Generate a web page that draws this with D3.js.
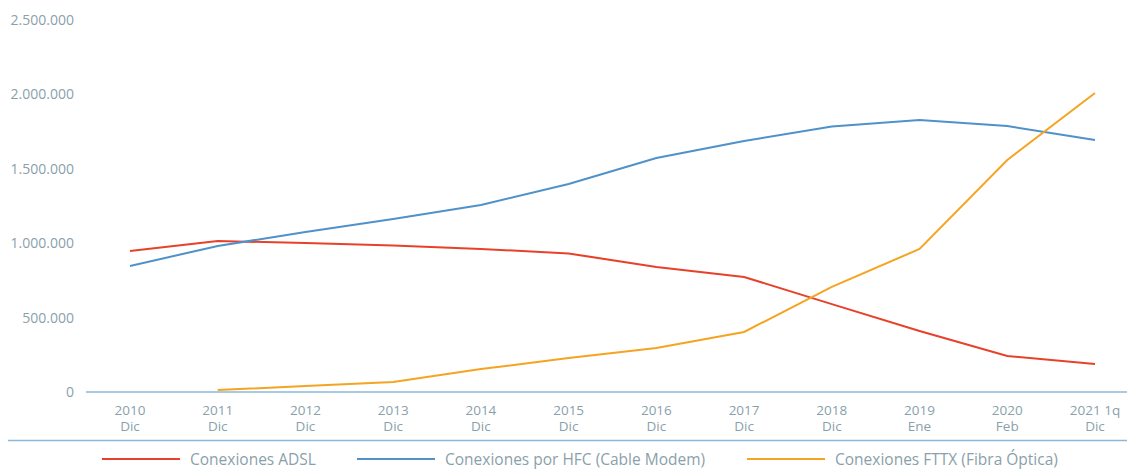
<!DOCTYPE html>
<html>
<head>
<meta charset="utf-8">
<script src="https://cdn.jsdelivr.net/npm/d3@7"></script>
<style>
  html, body { margin: 0; padding: 0; background: #fff; }
  svg { display: block; }
</style>
</head>
<body>
<svg id="chart" width="1127" height="469"></svg>
<script>
const years = ["2010", "2011", "2012", "2013", "2014", "2015", "2016", "2017", "2018", "2019", "2020", "2021 1q"];
const months = ["Dic", "Dic", "Dic", "Dic", "Dic", "Dic", "Dic", "Dic", "Dic", "Ene", "Feb", "Dic"];

const adsl = [946000, 1013000, 1000000, 983000, 960000, 930000, 839000, 772000, 590000, 409000, 242000, 188000];
const hfc = [846000, 980000, 1074000, 1161000, 1255000, 1396000, 1570000, 1685000, 1782000, 1825000, 1785000, 1691000];
const fttx = [null, 13000, 40000, 67000, 154000, 228000, 295000, 403000, 705000, 960000, 1557000, 2007000];

const yTicks = [0, 500000, 1000000, 1500000, 2000000, 2500000];

const seriesNames = ["Conexiones ADSL", "Conexiones por HFC (Cable Modem)", "Conexiones FTTX (Fibra Óptica)"];

(function() {
  const TEXT = "#8a9fab";
  const AXIS = "#8bb8da";
  const colors = ["#e8412a", "#4f91c9", "#f5a421"];
  const FONT = "'Open Sans', sans-serif";

  const svg = d3.select("#chart");

  const x = d3.scalePoint()
    .domain(years)
    .range([130, 1095]);

  const y = d3.scaleLinear()
    .domain([0, 2500000])
    .range([392, 19.5]);

  const fmt = d => d3.format(",")(d).replace(/,/g, ".");

  // y labels
  svg.append("g")
    .selectAll("text")
    .data(yTicks)
    .join("text")
    .attr("x", 74)
    .attr("y", d => y(d) + 5)
    .attr("text-anchor", "end")
    .attr("font-family", FONT)
    .attr("font-size", 14)
    .attr("fill", TEXT)
    .text(fmt);

  // baseline
  svg.append("line")
    .attr("x1", 86).attr("x2", 1127)
    .attr("y1", y(0)).attr("y2", y(0))
    .attr("stroke", AXIS)
    .attr("stroke-width", 1.3);

  // x labels, two lines in one text
  const xl = svg.append("g")
    .selectAll("text")
    .data(years)
    .join("text")
    .attr("text-anchor", "middle")
    .attr("font-family", FONT)
    .attr("font-size", 13.5)
    .attr("fill", TEXT);

  xl.append("tspan")
    .attr("x", d => x(d))
    .attr("y", 415)
    .text(d => d);

  xl.append("tspan")
    .attr("x", d => x(d))
    .attr("y", 430.5)
    .text((d, i) => months[i]);

  // separator above legend
  svg.append("line")
    .attr("x1", 8).attr("x2", 1127)
    .attr("y1", 440.5).attr("y2", 440.5)
    .attr("stroke", AXIS)
    .attr("stroke-width", 1.3);

  const line = d3.line()
    .defined(d => d != null)
    .x((d, i) => x(years[i]))
    .y(d => y(d));

  [adsl, hfc, fttx].forEach((s, k) => {
    svg.append("path")
      .datum(s)
      .attr("fill", "none")
      .attr("stroke", colors[k])
      .attr("stroke-width", 2)
      .attr("d", line);
  });

  // legend
  const legendX = [102, 357, 747];
  const lg = svg.append("g")
    .selectAll("g")
    .data(seriesNames)
    .join("g")
    .attr("transform", (d, i) => `translate(${legendX[i]},459)`);

  lg.append("line")
    .attr("x1", 0).attr("x2", 78)
    .attr("stroke", (d, i) => colors[i])
    .attr("stroke-width", 2);

  lg.append("text")
    .attr("x", 88)
    .attr("y", 5.5)
    .attr("font-family", FONT)
    .attr("font-size", 15.5)
    .attr("fill", TEXT)
    .text(d => d);
})();
</script>
</body>
</html>
